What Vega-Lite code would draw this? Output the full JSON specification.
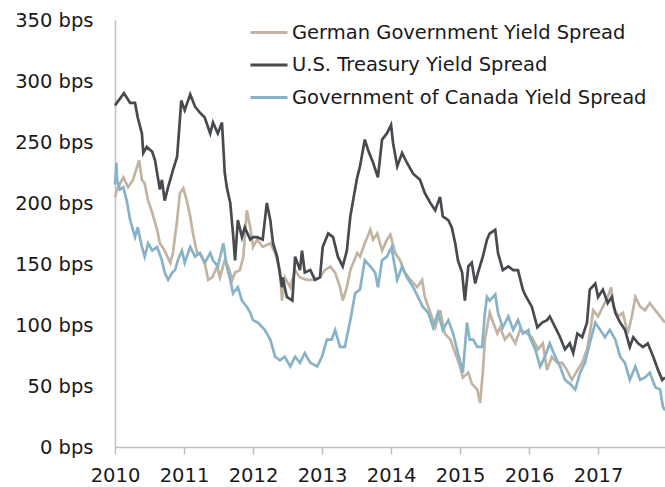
{
  "$schema": "https://vega.github.io/schema/vega-lite/v6.json",
  "width": 550,
  "height": 427,
  "autosize": {"type": "none"},
  "padding": {"left": 115, "top": 20, "right": 0, "bottom": 40},
  "background": "white",
  "config": {
    "view": {"stroke": null},
    "font": "DejaVu Sans",
    "axis": {"labelFont": "DejaVu Sans", "labelFontSize": 19.5, "labelColor": "#1a1a1a", "grid": false, "domainColor": "#bfbfbf", "tickColor": "#bfbfbf", "domainWidth": 1.5, "tickWidth": 1.5, "title": null},
    "legend": {"labelFont": "DejaVu Sans", "labelFontSize": 19.5, "labelColor": "#1a1a1a", "labelLimit": 0}
  },
  "datasets": {
    "de": [
      {"t":2010.00,"v":205},{"t":2010.03,"v":211},{"t":2010.12,"v":221},{"t":2010.19,"v":213},{"t":2010.26,"v":219},{"t":2010.35,"v":235},{"t":2010.39,"v":219},{"t":2010.43,"v":216},{"t":2010.48,"v":202},{"t":2010.54,"v":192},{"t":2010.61,"v":178},{"t":2010.65,"v":167},{"t":2010.72,"v":161},{"t":2010.80,"v":151},{"t":2010.84,"v":159},{"t":2010.90,"v":186},{"t":2010.94,"v":208},{"t":2010.99,"v":212},{"t":2011.04,"v":202},{"t":2011.09,"v":189},{"t":2011.13,"v":175},{"t":2011.19,"v":159},{"t":2011.23,"v":159},{"t":2011.30,"v":151},{"t":2011.35,"v":137},{"t":2011.41,"v":139},{"t":2011.48,"v":148},{"t":2011.52,"v":139},{"t":2011.59,"v":153},{"t":2011.64,"v":148},{"t":2011.70,"v":137},{"t":2011.74,"v":143},{"t":2011.81,"v":145},{"t":2011.86,"v":156},{"t":2011.91,"v":194},{"t":2011.96,"v":180},{"t":2012.00,"v":164},{"t":2012.06,"v":170},{"t":2012.14,"v":164},{"t":2012.25,"v":167},{"t":2012.32,"v":159},{"t":2012.39,"v":145},{"t":2012.42,"v":120},{"t":2012.46,"v":139},{"t":2012.54,"v":131},{"t":2012.61,"v":145},{"t":2012.68,"v":139},{"t":2012.78,"v":137},{"t":2012.87,"v":137},{"t":2012.97,"v":139},{"t":2013.04,"v":145},{"t":2013.12,"v":148},{"t":2013.19,"v":143},{"t":2013.26,"v":131},{"t":2013.30,"v":120},{"t":2013.36,"v":131},{"t":2013.41,"v":145},{"t":2013.51,"v":159},{"t":2013.55,"v":156},{"t":2013.62,"v":167},{"t":2013.70,"v":178},{"t":2013.74,"v":170},{"t":2013.80,"v":175},{"t":2013.87,"v":161},{"t":2013.94,"v":170},{"t":2013.99,"v":174},{"t":2014.06,"v":159},{"t":2014.13,"v":153},{"t":2014.20,"v":143},{"t":2014.28,"v":137},{"t":2014.38,"v":131},{"t":2014.45,"v":137},{"t":2014.49,"v":123},{"t":2014.57,"v":110},{"t":2014.64,"v":98},{"t":2014.71,"v":112},{"t":2014.78,"v":93},{"t":2014.86,"v":88},{"t":2014.93,"v":77},{"t":2015.00,"v":66},{"t":2015.04,"v":57},{"t":2015.12,"v":61},{"t":2015.17,"v":52},{"t":2015.25,"v":47},{"t":2015.29,"v":36},{"t":2015.33,"v":61},{"t":2015.36,"v":88},{"t":2015.43,"v":110},{"t":2015.48,"v":102},{"t":2015.54,"v":93},{"t":2015.58,"v":98},{"t":2015.65,"v":88},{"t":2015.72,"v":93},{"t":2015.80,"v":85},{"t":2015.87,"v":96},{"t":2015.97,"v":93},{"t":2016.04,"v":90},{"t":2016.13,"v":80},{"t":2016.20,"v":85},{"t":2016.26,"v":63},{"t":2016.33,"v":74},{"t":2016.41,"v":69},{"t":2016.48,"v":69},{"t":2016.55,"v":63},{"t":2016.62,"v":55},{"t":2016.70,"v":63},{"t":2016.77,"v":69},{"t":2016.84,"v":80},{"t":2016.88,"v":93},{"t":2016.93,"v":112},{"t":2017.00,"v":107},{"t":2017.07,"v":115},{"t":2017.14,"v":123},{"t":2017.19,"v":131},{"t":2017.22,"v":115},{"t":2017.29,"v":107},{"t":2017.36,"v":110},{"t":2017.43,"v":93},{"t":2017.49,"v":107},{"t":2017.54,"v":123},{"t":2017.61,"v":115},{"t":2017.68,"v":112},{"t":2017.75,"v":118},{"t":2017.83,"v":112},{"t":2017.90,"v":107},{"t":2017.97,"v":102}
    ],
    "us": [
      {"t":2010.00,"v":280},{"t":2010.13,"v":290},{"t":2010.22,"v":282},{"t":2010.29,"v":282},{"t":2010.33,"v":270},{"t":2010.39,"v":257},{"t":2010.41,"v":241},{"t":2010.46,"v":246},{"t":2010.54,"v":242},{"t":2010.58,"v":235},{"t":2010.65,"v":211},{"t":2010.68,"v":219},{"t":2010.72,"v":202},{"t":2010.77,"v":213},{"t":2010.84,"v":227},{"t":2010.90,"v":238},{"t":2010.94,"v":268},{"t":2010.96,"v":284},{"t":2011.01,"v":276},{"t":2011.09,"v":289},{"t":2011.16,"v":279},{"t":2011.23,"v":274},{"t":2011.30,"v":270},{"t":2011.38,"v":257},{"t":2011.42,"v":266},{"t":2011.49,"v":257},{"t":2011.55,"v":266},{"t":2011.57,"v":246},{"t":2011.59,"v":225},{"t":2011.62,"v":213},{"t":2011.67,"v":200},{"t":2011.71,"v":175},{"t":2011.74,"v":153},{"t":2011.78,"v":186},{"t":2011.84,"v":172},{"t":2011.88,"v":180},{"t":2011.96,"v":170},{"t":2012.00,"v":172},{"t":2012.06,"v":172},{"t":2012.14,"v":170},{"t":2012.20,"v":200},{"t":2012.25,"v":186},{"t":2012.29,"v":167},{"t":2012.35,"v":156},{"t":2012.42,"v":131},{"t":2012.43,"v":139},{"t":2012.49,"v":123},{"t":2012.57,"v":120},{"t":2012.61,"v":156},{"t":2012.68,"v":145},{"t":2012.71,"v":161},{"t":2012.75,"v":143},{"t":2012.83,"v":145},{"t":2012.90,"v":137},{"t":2012.97,"v":139},{"t":2013.01,"v":164},{"t":2013.09,"v":175},{"t":2013.16,"v":172},{"t":2013.23,"v":156},{"t":2013.30,"v":148},{"t":2013.36,"v":161},{"t":2013.41,"v":189},{"t":2013.45,"v":202},{"t":2013.51,"v":221},{"t":2013.55,"v":230},{"t":2013.62,"v":252},{"t":2013.67,"v":243},{"t":2013.74,"v":233},{"t":2013.81,"v":221},{"t":2013.87,"v":252},{"t":2013.94,"v":257},{"t":2014.00,"v":264},{"t":2014.03,"v":249},{"t":2014.09,"v":230},{"t":2014.16,"v":241},{"t":2014.23,"v":233},{"t":2014.32,"v":224},{"t":2014.42,"v":219},{"t":2014.49,"v":208},{"t":2014.57,"v":200},{"t":2014.64,"v":194},{"t":2014.71,"v":205},{"t":2014.75,"v":189},{"t":2014.83,"v":186},{"t":2014.88,"v":180},{"t":2014.93,"v":167},{"t":2014.97,"v":153},{"t":2015.03,"v":143},{"t":2015.07,"v":120},{"t":2015.12,"v":148},{"t":2015.17,"v":151},{"t":2015.22,"v":134},{"t":2015.26,"v":143},{"t":2015.33,"v":156},{"t":2015.39,"v":170},{"t":2015.43,"v":175},{"t":2015.51,"v":178},{"t":2015.55,"v":159},{"t":2015.62,"v":145},{"t":2015.70,"v":148},{"t":2015.77,"v":145},{"t":2015.84,"v":145},{"t":2015.91,"v":129},{"t":2015.94,"v":125},{"t":2016.01,"v":118},{"t":2016.04,"v":115},{"t":2016.12,"v":98},{"t":2016.19,"v":102},{"t":2016.26,"v":104},{"t":2016.30,"v":107},{"t":2016.38,"v":98},{"t":2016.45,"v":90},{"t":2016.52,"v":80},{"t":2016.59,"v":85},{"t":2016.64,"v":77},{"t":2016.70,"v":93},{"t":2016.77,"v":90},{"t":2016.84,"v":102},{"t":2016.88,"v":129},{"t":2016.96,"v":134},{"t":2017.00,"v":123},{"t":2017.07,"v":129},{"t":2017.14,"v":118},{"t":2017.20,"v":123},{"t":2017.25,"v":110},{"t":2017.32,"v":102},{"t":2017.39,"v":96},{"t":2017.46,"v":82},{"t":2017.51,"v":90},{"t":2017.58,"v":85},{"t":2017.65,"v":82},{"t":2017.72,"v":85},{"t":2017.80,"v":74},{"t":2017.87,"v":63},{"t":2017.93,"v":55},{"t":2017.97,"v":57}
    ],
    "ca": [
      {"t":2010.00,"v":215},{"t":2010.02,"v":233},{"t":2010.03,"v":219},{"t":2010.07,"v":211},{"t":2010.12,"v":213},{"t":2010.17,"v":202},{"t":2010.22,"v":186},{"t":2010.29,"v":172},{"t":2010.33,"v":180},{"t":2010.39,"v":164},{"t":2010.43,"v":156},{"t":2010.48,"v":167},{"t":2010.54,"v":161},{"t":2010.61,"v":164},{"t":2010.68,"v":153},{"t":2010.72,"v":143},{"t":2010.77,"v":137},{"t":2010.83,"v":143},{"t":2010.87,"v":145},{"t":2010.91,"v":153},{"t":2010.97,"v":161},{"t":2011.01,"v":151},{"t":2011.09,"v":164},{"t":2011.16,"v":156},{"t":2011.23,"v":159},{"t":2011.30,"v":151},{"t":2011.38,"v":159},{"t":2011.42,"v":153},{"t":2011.49,"v":148},{"t":2011.57,"v":167},{"t":2011.62,"v":148},{"t":2011.67,"v":137},{"t":2011.71,"v":126},{"t":2011.78,"v":131},{"t":2011.84,"v":120},{"t":2011.91,"v":115},{"t":2011.96,"v":110},{"t":2012.00,"v":104},{"t":2012.07,"v":102},{"t":2012.17,"v":96},{"t":2012.25,"v":88},{"t":2012.32,"v":74},{"t":2012.39,"v":71},{"t":2012.46,"v":74},{"t":2012.54,"v":66},{"t":2012.61,"v":74},{"t":2012.68,"v":69},{"t":2012.75,"v":77},{"t":2012.83,"v":69},{"t":2012.93,"v":66},{"t":2013.00,"v":74},{"t":2013.07,"v":88},{"t":2013.14,"v":88},{"t":2013.19,"v":96},{"t":2013.26,"v":82},{"t":2013.33,"v":82},{"t":2013.41,"v":104},{"t":2013.48,"v":126},{"t":2013.55,"v":129},{"t":2013.62,"v":153},{"t":2013.70,"v":148},{"t":2013.77,"v":143},{"t":2013.81,"v":131},{"t":2013.87,"v":153},{"t":2013.94,"v":156},{"t":2014.01,"v":164},{"t":2014.03,"v":156},{"t":2014.09,"v":137},{"t":2014.16,"v":148},{"t":2014.23,"v":139},{"t":2014.32,"v":131},{"t":2014.39,"v":123},{"t":2014.46,"v":115},{"t":2014.54,"v":110},{"t":2014.61,"v":98},{"t":2014.68,"v":110},{"t":2014.75,"v":96},{"t":2014.83,"v":104},{"t":2014.90,"v":93},{"t":2014.97,"v":77},{"t":2015.04,"v":61},{"t":2015.10,"v":102},{"t":2015.14,"v":88},{"t":2015.19,"v":88},{"t":2015.25,"v":82},{"t":2015.32,"v":82},{"t":2015.36,"v":110},{"t":2015.39,"v":123},{"t":2015.43,"v":120},{"t":2015.51,"v":125},{"t":2015.55,"v":110},{"t":2015.62,"v":98},{"t":2015.70,"v":107},{"t":2015.77,"v":96},{"t":2015.84,"v":104},{"t":2015.91,"v":93},{"t":2015.99,"v":96},{"t":2016.01,"v":90},{"t":2016.09,"v":80},{"t":2016.16,"v":66},{"t":2016.23,"v":74},{"t":2016.30,"v":85},{"t":2016.38,"v":74},{"t":2016.45,"v":66},{"t":2016.52,"v":55},{"t":2016.59,"v":52},{"t":2016.67,"v":47},{"t":2016.74,"v":61},{"t":2016.81,"v":69},{"t":2016.88,"v":85},{"t":2016.96,"v":102},{"t":2017.03,"v":96},{"t":2017.10,"v":90},{"t":2017.17,"v":96},{"t":2017.25,"v":88},{"t":2017.32,"v":74},{"t":2017.39,"v":69},{"t":2017.46,"v":55},{"t":2017.54,"v":66},{"t":2017.61,"v":55},{"t":2017.68,"v":57},{"t":2017.75,"v":61},{"t":2017.83,"v":49},{"t":2017.90,"v":47},{"t":2017.94,"v":33},{"t":2017.97,"v":30}
    ]
  },
  "layer": [
    {
      "data": {"name": "de"},
      "mark": {"type": "line", "strokeWidth": 2.7},
      "encoding": {
        "x": {"field": "t", "type": "quantitative", "scale": {"domain": [2010, 2017.97], "nice": false, "zero": false},
          "axis": {"values": [2010, 2011, 2012, 2013, 2014, 2015, 2016, 2017], "format": "d", "tickSize": 7, "labelPadding": 12, "labelFlush": false, "labelOverlap": false}},
        "y": {"field": "v", "type": "quantitative", "scale": {"domain": [0, 350], "nice": false},
          "axis": {"values": [0, 50, 100, 150, 200, 250, 300, 350], "labelExpr": "datum.value + ' bps'", "ticks": false, "labelPadding": 22}},
        "color": {"datum": "German Government Yield Spread", "type": "nominal",
          "scale": {"domain": ["German Government Yield Spread", "U.S. Treasury Yield Spread", "Government of Canada Yield Spread"], "range": ["#c2b3a2", "#474a4f", "#88b3c6"]},
          "legend": {"title": null, "orient": "none", "legendX": 141, "legendY": -4, "padding": 0, "symbolType": "M-1.47,0H1", "symbolSize": 900, "symbolStrokeWidth": 3, "symbolFillColor": "transparent", "labelOffset": 3, "rowPadding": 6.5}}
      }
    },
    {
      "data": {"name": "us"},
      "mark": {"type": "line", "strokeWidth": 2.7},
      "encoding": {
        "x": {"field": "t", "type": "quantitative"},
        "y": {"field": "v", "type": "quantitative"},
        "color": {"datum": "U.S. Treasury Yield Spread", "type": "nominal"}
      }
    },
    {
      "data": {"name": "ca"},
      "mark": {"type": "line", "strokeWidth": 2.7},
      "encoding": {
        "x": {"field": "t", "type": "quantitative"},
        "y": {"field": "v", "type": "quantitative"},
        "color": {"datum": "Government of Canada Yield Spread", "type": "nominal"}
      }
    }
  ]
}
